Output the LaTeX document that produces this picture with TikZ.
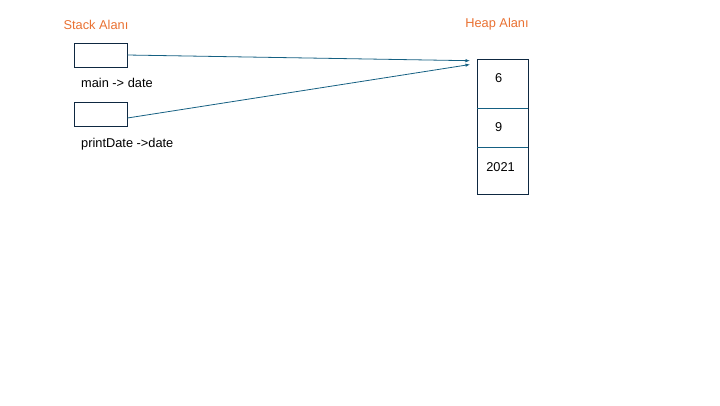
\documentclass[tikz,border=0pt]{standalone}
\usepackage{fontspec}
\setmainfont{Liberation Sans}
\usetikzlibrary{arrows.meta}
\definecolor{areaOrange}{HTML}{E97132}
\definecolor{ptrBlue}{HTML}{156082}
\definecolor{boxNavy}{HTML}{0E2841}
\tikzset{
	stackbox/.style={draw=boxNavy, line width=0.9pt, minimum width=53pt, minimum height=24pt, inner sep=0pt},
	areatitle/.style={text=areaOrange, font=\fontsize{12.8}{15}\selectfont, inner sep=0pt},
	varlabel/.style={anchor=west, font=\fontsize{12.8}{15}\selectfont, inner sep=0pt},
	ptr/.style={ptrBlue, line width=0.8pt, arrows={-Latex[length=4.5pt, width=3.5pt]}}
}

\begin{document}
\begin{tikzpicture}[x=1pt, y=-1pt]
	\useasboundingbox (0,0) rectangle (720,405);

	% stack side
	\node[areatitle] (stackTitle) at (96,25) {Stack Alanı};
	\node[stackbox] (mainBox) at (100.5,55) {};
	\node[stackbox] (printBox) at (100.5,114.5) {};
	\node[varlabel] (mainLbl) at (81,83) {main -> date};
	\node[varlabel] (printLbl) at (81,144) {printDate ->date};

	% heap side
	\node[areatitle] (heapTitle) at (497,24) {Heap Alanı};
	\draw[boxNavy, line width=0.9pt] (477,59) rectangle (528,194);
	\draw[ptrBlue, line width=0.8pt] (477,108.7) -- (528,108.7);
	\draw[ptrBlue, line width=0.8pt] (477,147.3) -- (528,147.3);
	\node[varlabel, anchor=center] (dayVal) at (498.7,77.7) {6};
	\node[varlabel, anchor=center] (monthVal) at (498.7,127.3) {9};
	\node[varlabel, anchor=center] (yearVal) at (500.5,167.3) {2021};

	\coordinate (heapIn1) at (470,60.7);
	\coordinate (heapIn2) at (470,64.5);

	% pointers
	\draw[ptr] (mainBox.east) -- (heapIn1);
	\draw[ptr] ([yshift=-3.5pt]printBox.east) -- (heapIn2);
\end{tikzpicture}
\end{document}
